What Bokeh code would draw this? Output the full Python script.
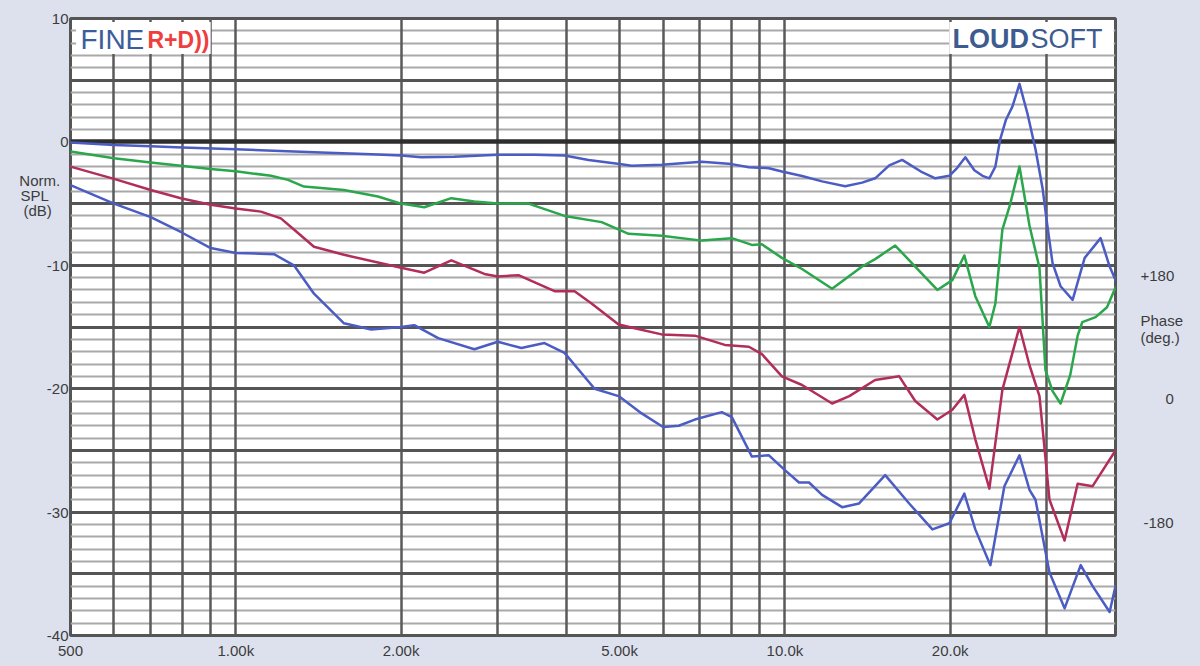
from bokeh.plotting import figure
from bokeh.models import Range1d, FixedTicker, Grid, Label, BoxAnnotation, LinearAxis
from bokeh.embed import file_html
from bokeh.resources import INLINE

# ---------------- data (frequency in Hz, level in dB) ----------------
freq_c1 = [500, 600, 700, 800, 1000, 1276, 1472, 1764, 2000, 2176, 2500, 3000, 3500, 3969,
           4389, 5000, 5259, 5964, 7057, 8000, 8598, 9352, 9876, 10745, 11687, 12874, 13824,
           14600, 15490, 16350, 17690, 18790, 19930, 20600, 21310, 22130, 22900, 23570,
           24170, 24650, 25270, 25960, 26740, 27650, 28600, 29470, 30000, 30720, 31770,
           33420, 35150, 37580, 39030, 40000]
db_c1 = [-0.05, -0.25, -0.35, -0.45, -0.6, -0.78, -0.87, -1.0, -1.1, -1.24, -1.2, -1.05, -1.05,
         -1.1, -1.46, -1.8, -1.94, -1.86, -1.6, -1.8, -2.05, -2.13, -2.4, -2.76, -3.2, -3.6,
         -3.3, -2.95, -1.9, -1.46, -2.4, -2.95, -2.75, -2.1, -1.25, -2.3, -2.75, -2.95, -2.0,
         0.16, 1.8, 2.86, 4.7, 2.3, -0.6, -3.8, -6.5, -9.83, -11.7, -12.8, -9.4, -7.8, -10.1,
         -11.2]

freq_c2 = [500, 600, 700, 900, 1000, 1159, 1245, 1331, 1574, 1815, 2000, 2204, 2469, 2719,
           3000, 3412, 3969, 4637, 5193, 5964, 7057, 8005, 8708, 9080, 9876, 10745, 12189,
           13824, 14600, 15880, 17270, 18950, 20180, 21220, 22220, 23570, 24170, 24890,
           25700, 26740, 27890, 29080, 29820, 30720, 31770, 33080, 34130, 34800, 36800,
           38600, 40000]
db_c2 = [-0.78, -1.32, -1.67, -2.2, -2.38, -2.75, -3.08, -3.62, -3.9, -4.43, -5.0, -5.3, -4.56,
         -4.83, -5.0, -5.0, -6.0, -6.5, -7.45, -7.6, -8.0, -7.8, -8.35, -8.3, -9.4, -10.3,
         -11.9, -10.1, -9.5, -8.4, -10.1, -12.0, -11.2, -9.2, -12.5, -15.0, -13.1, -7.1, -5.1,
         -2.0, -6.8, -10.2, -18.5, -20.2, -21.2, -18.9, -15.7, -14.6, -14.2, -13.4, -11.8]

freq_c3 = [500, 600, 700, 794, 900, 1000, 1111, 1208, 1276, 1388, 1574, 2000, 2204, 2469,
           2836, 3000, 3271, 3806, 4140, 4445, 4979, 5326, 5964, 6854, 7773, 8598, 9080,
           9876, 10745, 12189, 13100, 14600, 16150, 17270, 18950, 20180, 21220, 22220,
           23570, 24890, 26740, 27890, 29080, 30330, 32310, 34130, 36340, 40000]
db_c3 = [-2.0, -3.0, -3.9, -4.56, -5.1, -5.4, -5.65, -6.2, -7.1, -8.5, -9.15, -10.2, -10.6,
         -9.6, -10.7, -10.9, -10.8, -12.1, -12.1, -13.1, -14.8, -15.1, -15.6, -15.7, -16.45,
         -16.6, -17.2, -19.0, -19.7, -21.2, -20.6, -19.3, -19.0, -21.0, -22.5, -21.7, -20.5,
         -24.1, -28.1, -20.1, -15.0, -18.1, -20.6, -29.0, -32.3, -27.7, -27.9, -25.0]

freq_c4 = [500, 600, 700, 794, 900, 1000, 1174, 1276, 1388, 1574, 1764, 2000, 2113, 2337,
           2719, 3000, 3313, 3648, 3969, 4502, 4979, 5485, 6000, 6408, 6854, 7675, 8005,
           8350, 8708, 9352, 10000, 10610, 11066, 11687, 12712, 13650, 15228, 16840, 18560,
           19930, 21220, 22220, 23670, 25100, 26740, 27890, 28600, 30330, 32310, 34570,
           36340, 39030, 40000]
db_c4 = [-3.5, -5.0, -6.1, -7.3, -8.6, -9.0, -9.1, -10.0, -12.3, -14.7, -15.2, -15.0, -14.85,
         -15.9, -16.8, -16.2, -16.7, -16.3, -17.1, -20.0, -20.6, -22.0, -23.1, -23.0, -22.5,
         -21.9, -22.3, -23.9, -25.5, -25.4, -26.6, -27.6, -27.6, -28.6, -29.6, -29.3, -27.0,
         -29.3, -31.4, -30.9, -28.5, -31.4, -34.3, -27.9, -25.4, -28.2, -29.0, -34.9, -37.8,
         -34.3, -36.0, -38.1, -36.0]

x_tick_values = [500, 1000, 2000, 5000, 10000, 20000]
x_tick_labels = ["500", "1.00k", "2.00k", "5.00k", "10.0k", "20.0k"]
x_grid_freqs = [600, 700, 800, 900, 1000, 2000, 3000, 4000, 5000, 6000, 7000, 8000, 9000,
                10000, 20000, 30000]
y_tick_values = [10, 0, -10, -20, -30, -40]
y_tick_labels = ["10", "0", "-10", "-20", "-30", "-40"]
phase_tick_values = [180, 0, -180]
phase_tick_labels = ["+180", "0", "-180"]

# ---------------- styling ----------------
BG = "#dde1ee"
FONT = "Liberation Sans"
TXT = "#3c3c3c"
BLUE = "#4b5cc4"
GREEN = "#2aa64b"
RED = "#b22d5c"
FS = "\u2007"   # figure space (digit width), used to align side texts
TS = "\u2009"   # thin space

p = figure(width=1200, height=666, x_axis_type="log",
           x_range=Range1d(500, 40000), y_range=Range1d(-40, 10),
           output_backend="svg", toolbar_location=None,
           min_border_left=70, min_border_right=85, min_border_top=18, min_border_bottom=31)

p.border_fill_color = BG
p.background_fill_color = "white"
p.outline_line_color = "#555555"
p.outline_line_width = 3

p.xgrid.grid_line_color = None
p.ygrid.grid_line_color = None

minor_db = [v for v in range(-39, 10) if v % 5 != 0]
major_db = [v for v in range(-35, 10, 5) if v != 0]

p.add_layout(Grid(dimension=1, ticker=FixedTicker(ticks=minor_db),
                  grid_line_color="#a9a9a9", grid_line_width=2, level="underlay"))
p.add_layout(Grid(dimension=0, ticker=FixedTicker(ticks=x_grid_freqs),
                  grid_line_color="#5a5a5a", grid_line_width=2.5, level="underlay"))
p.add_layout(Grid(dimension=1, ticker=FixedTicker(ticks=major_db),
                  grid_line_color="#555555", grid_line_width=3, level="underlay"))
p.add_layout(Grid(dimension=1, ticker=FixedTicker(ticks=[0]),
                  grid_line_color="#2e2e2e", grid_line_width=4.5, level="underlay"))

# ---- left axis: dB ticks plus the "Norm. SPL (dB)" title lines ----
left_title_pos = [-3.16, -4.38, -5.59]
left_title_txt = ["Norm." + FS, "SPL" + FS + FS + TS, "(dB)" + FS + FS]
xa = p.xaxis[0]
xa.ticker = FixedTicker(ticks=x_tick_values)
xa.major_label_overrides = {v: s for v, s in zip(x_tick_values, x_tick_labels)}
ya = p.yaxis[0]
ya.ticker = FixedTicker(ticks=y_tick_values + left_title_pos)
ov = {v: s for v, s in zip(y_tick_values, y_tick_labels)}
ov.update({v: s for v, s in zip(left_title_pos, left_title_txt)})
ya.major_label_overrides = ov

# ---- right axis: phase scale (0 deg sits at the -20.75 dB level, 18 deg per dB) ----
p.extra_y_ranges = {"phase": Range1d(-345.4, 553.9)}
right_title_pos = [113.7, 88.9]
right_title_txt = ["Phase", "(deg.)"]
ra = LinearAxis(y_range_name="phase")
ra.ticker = FixedTicker(ticks=phase_tick_values + right_title_pos)
rov = {180: "+180", 0: FS + FS + FS + "0", -180: TS + "-180"}
rov.update({v: s for v, s in zip(right_title_pos, right_title_txt)})
ra.major_label_overrides = rov
p.add_layout(ra, "right")

for ax in (xa, ya, ra):
    ax.axis_line_color = None
    ax.major_tick_line_color = None
    ax.minor_tick_line_color = None
    ax.major_tick_out = 0
    ax.major_tick_in = 0
    ax.minor_tick_out = 0
    ax.minor_tick_in = 0
    ax.major_label_text_font = FONT
    ax.major_label_text_font_size = "15px"
    ax.major_label_text_color = TXT
xa.major_label_standoff = 6
ya.major_label_standoff = 2
ra.major_label_standoff = 25

# curves
for fr, db, col in ((freq_c1, db_c1, BLUE), (freq_c2, db_c2, GREEN),
                    (freq_c3, db_c3, RED), (freq_c4, db_c4, BLUE)):
    p.line(fr, db, line_color=col, line_width=2.5, line_join="round", line_cap="round")

# logo boxes
p.add_layout(BoxAnnotation(left=512, right=900, top=9.72, bottom=7.13,
                           fill_color="white", fill_alpha=1.0, line_color=None))
p.add_layout(BoxAnnotation(left=19920, right=39700, top=9.72, bottom=7.13,
                           fill_color="white", fill_alpha=1.0, line_color=None))

def slab(x, y, text, size="15px", color=TXT, align="center", style="normal"):
    p.add_layout(Label(x=x, y=y, x_units="screen", y_units="screen", text=text,
                       text_font=FONT, text_font_size=size, text_color=color,
                       text_align=align, text_baseline="middle", text_font_style=style))

slab(10, 596, "FINE", size="28px", color="#3c5d9c", align="left")
slab(77, 596, "R+D))", size="23px", color="#ef3e3e", align="left", style="bold")
slab(882, 597, "LOUD", size="27px", color="#3d5b8f", align="left", style="bold")
slab(960, 597, "SOFT", size="27px", color="#3d5b8f", align="left")

html = file_html(p, INLINE)
html = html.replace("<head>", "<head><style>html,body{background:%s;}</style>" % BG, 1)
open("out.html", "w").write(html)
